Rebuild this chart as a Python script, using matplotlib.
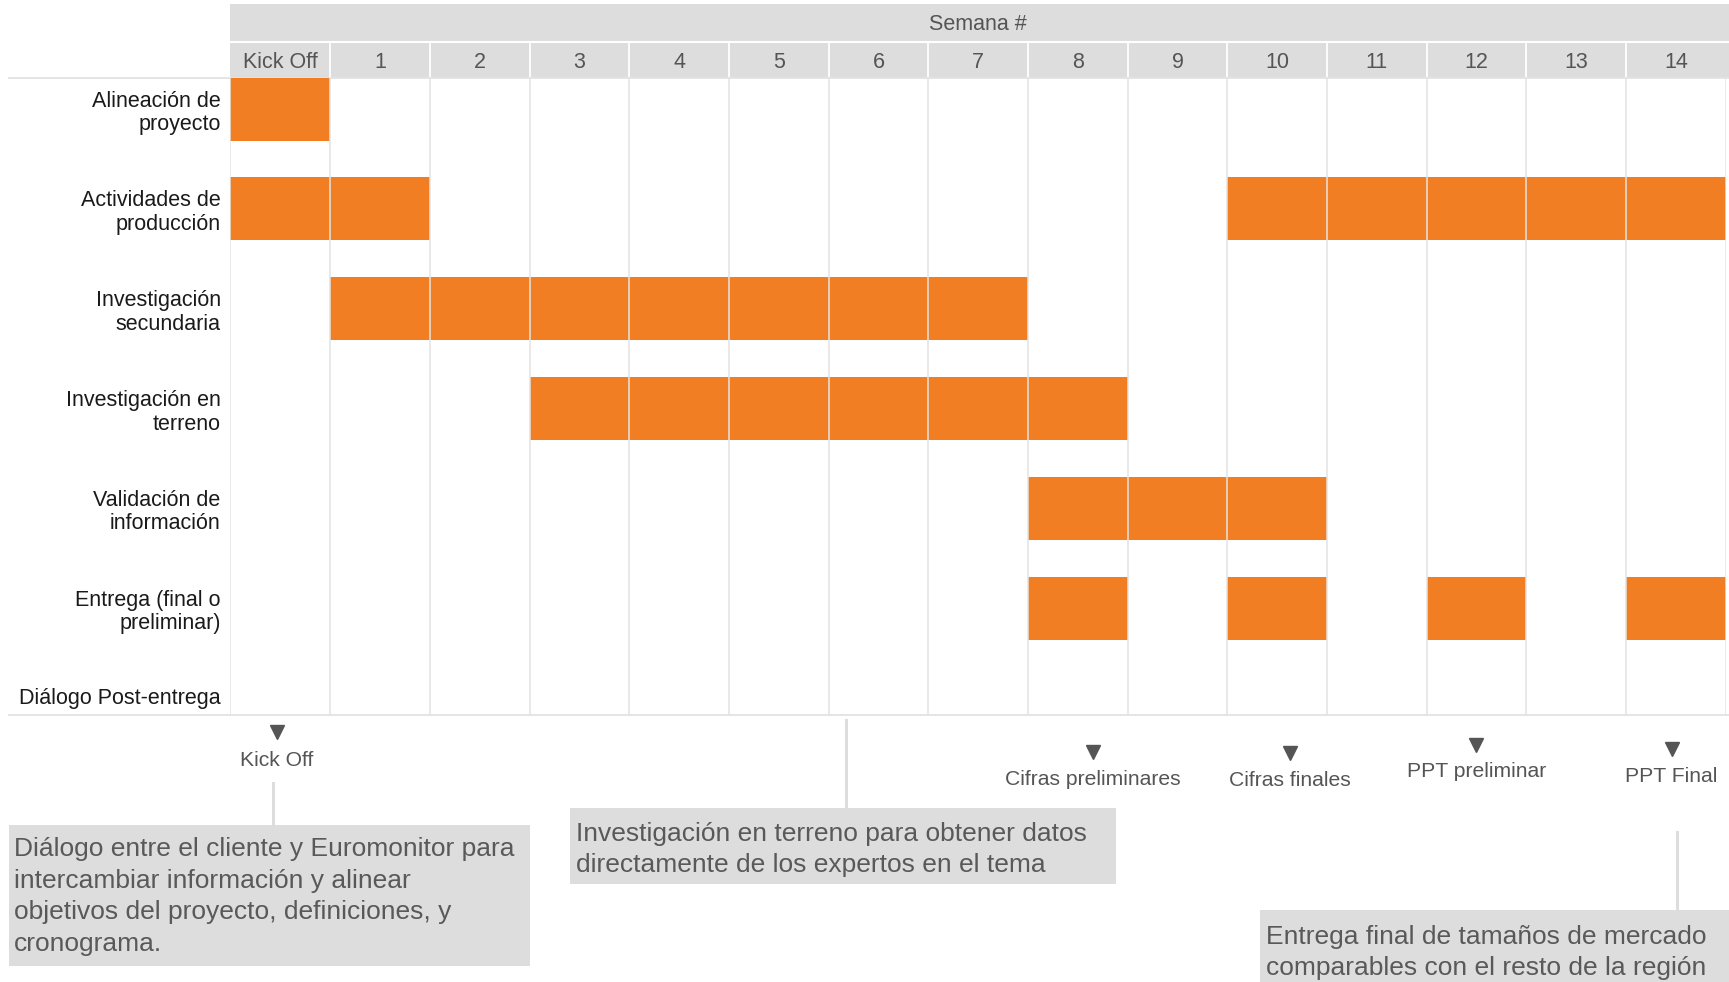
import matplotlib
matplotlib.use('Agg')
import matplotlib.pyplot as plt
import matplotlib.transforms as mtransforms
from matplotlib.patches import Rectangle

plt.rcParams['font.family'] = ['Liberation Sans', 'DejaVu Sans']

# ---------------- data ----------------
weeks = ['Kick Off'] + [str(i) for i in range(1, 15)]
header_title = 'Semana #'
tasks = ['Alineación de\nproyecto', 'Actividades de\nproducción', 'Investigación\nsecundaria',
         'Investigación en\nterreno', 'Validación de\ninformación', 'Entrega (final o\npreliminar)',
         'Diálogo Post-entrega']
task_weeks = [[0],
              [0, 1, 10, 11, 12, 13, 14],
              [1, 2, 3, 4, 5, 6, 7],
              [3, 4, 5, 6, 7, 8],
              [8, 9, 10],
              [8, 10, 12, 14],
              []]
milestones = ['Kick Off', 'Cifras preliminares', 'Cifras finales', 'PPT preliminar', 'PPT Final']
notes = ['Diálogo entre el cliente y Euromonitor para\nintercambiar información y alinear\n'
         'objetivos del proyecto, definiciones, y\ncronograma.',
         'Investigación en terreno para obtener datos\ndirectamente de los expertos en el tema',
         'Entrega final de tamaños de mercado\ncomparables con el resto de la región']

# ---------------- style ----------------
ORANGE = '#F17E22'
HEADER = '#DDDDDD'
GRID = '#E3E3E3'
TXT = '#555555'

W, H = 1568, 890.6   # overlay coordinate system (scaled reference)
fig = plt.figure(figsize=(17.29, 9.82), dpi=100)

# overlay axes for header / annotations
ov = fig.add_axes([0, 0, 1, 1], zorder=0)
ov.set_xlim(0, W)
ov.set_ylim(H, 0)
ov.axis('off')

# main gantt axes
gx0, gx1, gy0, gy1 = 209, 1565, 71, 648
ax = fig.add_axes([gx0 / W, 1 - gy1 / H, (gx1 - gx0) / W, (gy1 - gy0) / H], zorder=1)
ax.set_facecolor('none')
n = len(weeks)
ax.set_xlim(0, n)
ax.set_ylim(6.066, -0.309)
bar_h = 0.63
for r, wk in enumerate(task_weeks):
    for w in wk:
        ax.bar(w, bar_h, width=1, bottom=r - bar_h / 2, align='edge', color=ORANGE, lw=0, zorder=1)

ax.set_xticks(range(n + 1))
ax.tick_params(axis='x', length=0, labelbottom=False)
ax.grid(axis='x', color=GRID, lw=1.1, zorder=3)
ax.set_axisbelow(False)
for s in ax.spines.values():
    s.set_visible(False)
ypos = list(range(len(tasks) - 1)) + [5.88]
ax.set_yticks(ypos)
ax.set_yticklabels(tasks, fontsize=15.5, color='#1a1a1a')
for lab in ax.get_yticklabels():
    lab.set_linespacing(1.16)
ax.tick_params(axis='y', length=0, pad=7)

# header
ov.add_patch(Rectangle((gx0, 4), W - gx0, gy0 - 4, facecolor=HEADER, lw=0))
ov.plot([gx0, W], [38, 38], color='white', lw=1.5)
bt = mtransforms.blended_transform_factory(ax.transData, ov.transData)
for i in range(1, n):
    ov.plot([i, i], [39, gy0], color='white', lw=1.3, transform=bt)
for i, wlab in enumerate(weeks):
    ov.text(i + 0.5, 56.5, wlab, transform=bt, ha='center', va='center', fontsize=15.5, color=TXT)
ov.text(n / 2, 22.5, header_title, transform=bt, ha='center', va='center', fontsize=15.5, color=TXT)

# horizontal rules
ov.plot([8, W], [gy0, gy0], color=GRID, lw=1.3)
ov.plot([8, W], [gy1, gy1], color=GRID, lw=1.3)

# milestones
mx = [251, 991, 1170, 1339, 1516]
my = [664, 682, 683, 676, 679]
ly = [690, 707, 708, 700, 704]
for lab, x, y1, y2 in zip(milestones, mx, my, ly):
    ov.plot(x, y1, marker='v', ms=10.5, color=TXT, ls='none')
    ov.text(x, y2, lab, ha='center', va='center', fontsize=15.2, color=TXT)

# connectors
for x, ya, yb in [(248, 710, 748), (767, 653, 733), (1521, 755, 825)]:
    ov.plot([x, x], [ya, yb], color=HEADER, lw=2.2)

# note boxes
boxes = [(8, 748, 481, 876), (517, 733, 1012, 802), (1143, 825, 1568, 900)]
text_c = [813, 770.5, 864]
for (x0, y0, x1, y1), t, yc in zip(boxes, notes, text_c):
    ov.add_patch(Rectangle((x0, y0), x1 - x0, y1 - y0, facecolor=HEADER, lw=0))
    ov.text(x0 + 5, yc, t, ha='left', va='center', fontsize=19, color='#595959', linespacing=1.39)

fig.savefig('out.png', dpi=100)
